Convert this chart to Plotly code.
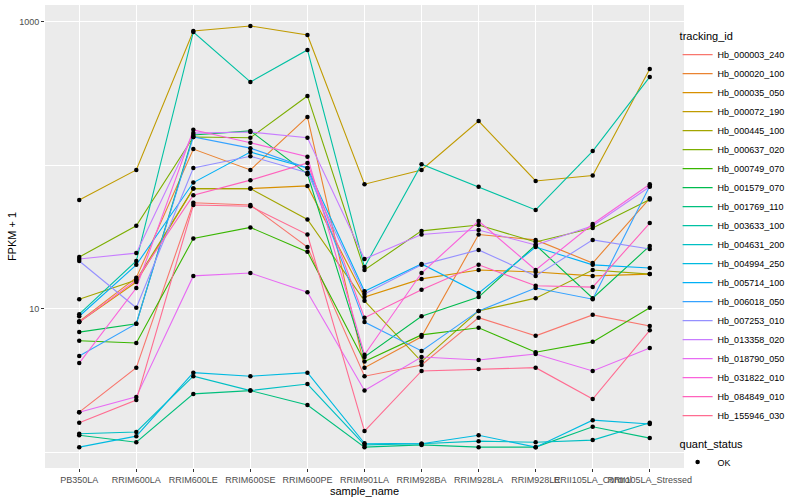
import plotly.graph_objects as go

samples = ["PB350LA", "RRIM600LA", "RRIM600LE", "RRIM600SE", "RRIM600PE", "RRIM901LA",
           "RRIM928BA", "RRIM928LA", "RRIM928LE", "RRII105LA_Control", "RRII105LA_Stressed"]

tracking_ids = ["Hb_000003_240", "Hb_000020_100", "Hb_000035_050", "Hb_000072_190", "Hb_000445_100",
                "Hb_000637_020", "Hb_000749_070", "Hb_001579_070", "Hb_001769_110", "Hb_003633_100",
                "Hb_004631_200", "Hb_004994_250", "Hb_005714_100", "Hb_006018_050", "Hb_007253_010",
                "Hb_013358_020", "Hb_018790_050", "Hb_031822_010", "Hb_084849_010", "Hb_155946_030"]

colors = ["#F8766D", "#EA8331", "#D89000", "#C09B00", "#A3A500", "#7CAE00", "#39B600", "#00BB4E",
          "#00BF7D", "#00C1A3", "#00BFC4", "#00BAE0", "#00B0F6", "#35A2FF", "#9590FF", "#C77CFF",
          "#E76BF3", "#FA62DB", "#FF62BC", "#FF6C91"]

# FPKM + 1 values per gene, in sample order
Hb_000003_240 = [1.91, 3.9, 55, 53, 27, 3.4, 4.07, 8.7, 6.5, 9.1, 7.6]
Hb_000020_100 = [8.2, 16.5, 130, 93, 218, 3.9, 6.4, 33, 30.3, 20.9, 59]
Hb_000035_050 = [8.1, 15.4, 69, 69, 72, 12.1, 16.2, 18.7, 18.1, 17.0, 17.5]
Hb_000072_190 = [57.5, 93, 865, 937, 811, 74, 93, 204, 78, 85, 470]
Hb_000445_100 = [11.7, 15.9, 69, 69, 42, 11.4, 4.3, 9.7, 11.9, 18.7, 17.5]
Hb_000637_020 = [23, 38, 158, 156, 305, 18.7, 35, 38.5, 29.3, 36.7, 58]
Hb_000749_070 = [6.0, 5.8, 31, 37, 25, 4.3, 6.6, 7.4, 5.0, 5.9, 10.2]
Hb_001579_070 = [6.9, 7.9, 163, 174, 87, 4.63, 8.9, 12.1, 27.9, 11.9, 27.5]
Hb_001769_110 = [1.32, 1.18, 2.56, 2.7, 2.14, 1.09, 1.13, 1.09, 1.09, 1.51, 1.26]
Hb_003633_100 = [9.2, 21.6, 851, 382, 638, 19.6, 102, 71, 49, 126, 414]
Hb_004631_200 = [1.35, 1.39, 3.4, 2.7, 3.0, 1.13, 1.15, 1.20, 1.18, 1.22, 1.61]
Hb_004994_250 = [1.09, 1.30, 3.6, 3.4, 3.6, 1.16, 1.15, 1.32, 1.09, 1.68, 1.58]
Hb_005714_100 = [8.9, 20.3, 76, 124, 96, 13.3, 20.6, 12.9, 27, 20.3, 19.3]
Hb_006018_050 = [4.7, 7.9, 158, 132, 96, 8.1, 5.1, 9.7, 14.0, 11.7, 72]
Hb_007253_010 = [21.6, 10.2, 96, 116, 89, 12.7, 20.3, 25.8, 17.0, 30.3, 26.2]
Hb_013358_020 = [22.3, 24.5, 168, 171, 156, 22.3, 33, 35.5, 27.9, 38, 71]
Hb_018790_050 = [1.91, 2.44, 17.0, 17.8, 13.1, 2.7, 4.63, 4.41, 4.86, 3.70, 5.35]
Hb_031822_010 = [4.2, 14.0, 177, 144, 115, 4.8, 17.8, 41, 18.7, 39.1, 74]
Hb_084849_010 = [8.1, 15.9, 62, 79, 104, 8.7, 13.6, 20.3, 14.5, 14.2, 39.7]
Hb_155946_030 = [1.61, 2.32, 53, 52, 33, 1.41, 3.70, 3.82, 3.9, 2.36, 7.1]

series = [Hb_000003_240, Hb_000020_100, Hb_000035_050, Hb_000072_190, Hb_000445_100,
          Hb_000637_020, Hb_000749_070, Hb_001579_070, Hb_001769_110, Hb_003633_100,
          Hb_004631_200, Hb_004994_250, Hb_005714_100, Hb_006018_050, Hb_007253_010,
          Hb_013358_020, Hb_018790_050, Hb_031822_010, Hb_084849_010, Hb_155946_030]

y_ticks = [10, 1000]
y_minor = [1, 100]

FONT = "Liberation Sans, Arial, Helvetica, sans-serif"

fig = go.Figure()
for name, col, vals in zip(tracking_ids, colors, series):
    fig.add_trace(go.Scatter(x=samples, y=vals, mode="lines", name=name,
                             line=dict(color=col, width=1.1), legend="legend"))
for i, (name, vals) in enumerate(zip(tracking_ids, series)):
    fig.add_trace(go.Scatter(x=samples, y=vals, mode="markers", name="OK",
                             marker=dict(color="black", size=4.5, symbol="circle"),
                             showlegend=(i == 0), legend="legend2"))

fig.update_layout(
    width=800, height=500,
    margin=dict(l=45, r=116, t=5, b=32, autoexpand=False),
    paper_bgcolor="white", plot_bgcolor="#EBEBEB",
    font=dict(family=FONT, size=9, color="#4D4D4D"),
    xaxis=dict(type="category", categoryorder="array", categoryarray=samples,
               range=[-0.6, 10.6], showgrid=True, gridcolor="white", gridwidth=1.1,
               ticks="outside", ticklen=3, tickcolor="#333333", zeroline=False,
               tickangle=0, automargin=False,
               tickfont=dict(size=9, color="#4D4D4D"),
               title=dict(text="sample_name", font=dict(size=11, color="black"), standoff=2)),
    yaxis=dict(type="log", range=[-0.108, 3.118], tickvals=y_ticks, ticktext=["10", "1000"],
               showgrid=True, gridcolor="white", gridwidth=1.1, zeroline=False,
               ticks="outside", ticklen=3, tickcolor="#333333", automargin=False,
               tickfont=dict(size=9, color="#4D4D4D"),
               minor=dict(tickvals=y_minor, showgrid=True, gridcolor="white", gridwidth=0.5, ticks=""),
               title=dict(text="FPKM + 1", font=dict(size=11, color="black"), standoff=0)),
    legend=dict(title=dict(text="tracking_id", font=dict(size=11, color="black")),
                font=dict(size=9, color="black"), x=0.99, xanchor="left", y=0.955, yanchor="top",
                bgcolor="rgba(0,0,0,0)", itemwidth=30, tracegroupgap=0),
    legend2=dict(title=dict(text="quant_status", font=dict(size=11, color="black")),
                 font=dict(size=9, color="black"), x=0.99, xanchor="left", y=-0.02, yanchor="bottom",
                 bgcolor="rgba(0,0,0,0)", itemwidth=30),
)

fig.write_html("out.html", config={"displayModeBar": False},
               post_script="document.body.style.margin='0';document.body.style.overflow='hidden';")
